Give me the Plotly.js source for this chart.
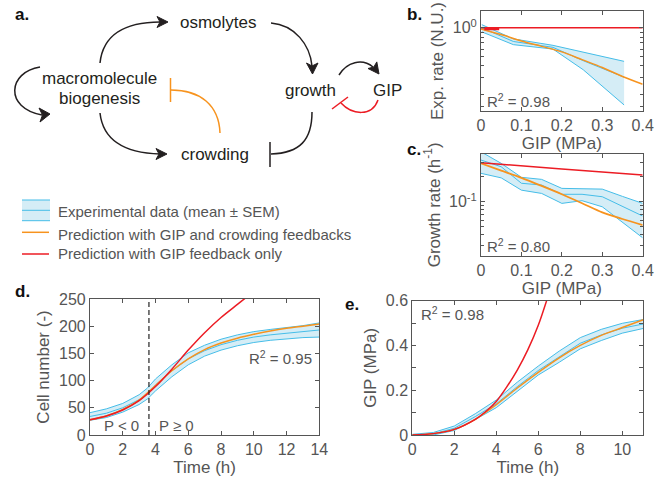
<!DOCTYPE html>
<html><head><meta charset="utf-8">
<script src="https://cdn.plot.ly/plotly-3.0.1.min.js"></script>
<style>html,body{margin:0;padding:0;background:#fff}#chart{width:664px;height:477px}</style>
</head><body><div id="chart"></div>
<script>
// ---------- Panel b: exponential rate vs GIP ----------
const bX      = [0.002, 0.08, 0.178, 0.253, 0.354];
const bMean   = [1.0, 0.72, 0.625, 0.453, 0.305];
const bUpper  = [1.08, 0.766, 0.656, 0.553, 0.446];
const bLower  = [0.908, 0.667, 0.60, 0.364, 0.156];
const bPredX  = [0, 0.05, 0.1, 0.15, 0.2, 0.25, 0.3, 0.35, 0.4];
const bOrange = [0.976, 0.85, 0.73, 0.64, 0.56, 0.465, 0.385, 0.31, 0.257];
const bRedX   = [0, 0.4];
const bRed    = [1, 1];
const bRedStubX = [0.008, 0.045];
const bRedStub  = [0.98, 0.98];

// ---------- Panel c: growth rate vs GIP ----------
const cX      = [0, 0.05, 0.1, 0.15, 0.2, 0.25, 0.3, 0.35, 0.4];
const cUpper  = [0.40, 0.29, 0.197, 0.186, 0.145, 0.145, 0.142, 0.116, 0.0956];
const cMean   = [0.318, 0.264, 0.167, 0.159, 0.123, 0.123, 0.115, 0.088, 0.0673];
const cLower  = [0.22, 0.194, 0.138, 0.126, 0.0956, 0.103, 0.087, 0.0565, 0.0368];
const cOrange = [0.29, 0.237, 0.194, 0.155, 0.123, 0.096, 0.0745, 0.062, 0.0524];
const cRedX   = [0, 0.2, 0.4];
const cRed    = [0.295, 0.248, 0.21];

// ---------- Panel d: cell number vs time ----------
const dT      = [0, 1, 2, 3, 3.5, 4, 5, 6, 7, 8, 9, 10, 11, 12, 13, 14];
const dMean   = [34, 40, 50, 65, 76, 92, 118, 140, 155, 166, 174, 180, 184, 187, 190, 193];
const dSem    = [7, 8, 8, 9, 10, 11, 11, 11, 10, 10, 10, 10, 10, 10, 11, 13];
const dPredT  = [0, 1, 2, 3, 4, 5, 6, 7, 8, 9, 10, 11, 12, 13, 14];
const dOrange = [28, 35, 47, 64, 91, 118, 140, 157, 169, 178, 185, 191, 196, 200, 204];
const dRedT   = [0, 1, 2, 3, 4, 5, 6, 7, 8, 9, 9.5, 10];
const dRed    = [28, 35, 46, 63, 89, 121, 156, 188, 216, 240, 252, 264];
const dDivide = 3.6;

// ---------- Panel e: GIP vs time ----------
const eT      = [0, 1, 2, 3, 4, 5, 6, 7, 8, 9, 10, 11];
const eMean   = [0, 0.005, 0.03, 0.082, 0.139, 0.216, 0.288, 0.35, 0.41, 0.447, 0.477, 0.496];
const eSem    = [0.003, 0.006, 0.01, 0.013, 0.017, 0.02, 0.02, 0.025, 0.025, 0.025, 0.022, 0.02];
const eOrange = [0, 0.006, 0.025, 0.07, 0.135, 0.21, 0.28, 0.345, 0.4, 0.445, 0.48, 0.515];
const eRedT   = [0, 1, 2, 3, 3.5, 4, 4.5, 5, 5.5, 6, 6.5];
const eRed    = [0, 0.006, 0.025, 0.07, 0.105, 0.15, 0.215, 0.29, 0.38, 0.49, 0.63];

// ---------- styles ----------
const FONT = 'Liberation Sans, Arial, sans-serif';
const TXT = '#555';
const BLUE = '#45bde8';
const FILL = 'rgba(195,230,242,0.7)';
const ORANGE = '#f7931e';
const RED = '#ec1c24';
const INK = '#231f20';

const traces = [];
function band(x, lo, hi, mid, xa, ya) {
  traces.push({type:'scatter', mode:'lines', x:x, y:lo, xaxis:xa, yaxis:ya, line:{color:BLUE, width:1}, hoverinfo:'skip'});
  traces.push({type:'scatter', mode:'lines', x:x, y:hi, xaxis:xa, yaxis:ya, fill:'tonexty', fillcolor:FILL, line:{color:BLUE, width:1}, hoverinfo:'skip'});
  traces.push({type:'scatter', mode:'lines', x:x, y:mid, xaxis:xa, yaxis:ya, line:{color:BLUE, width:1}, hoverinfo:'skip'});
}
function curve(x, y, color, w, xa, ya, smooth) {
  traces.push({type:'scatter', mode:'lines', x:x, y:y, xaxis:xa, yaxis:ya,
    line:{color:color, width:w, shape: smooth ? 'spline' : 'linear', smoothing:0.8}, hoverinfo:'skip'});
}
// b
band(bX, bLower, bUpper, bMean, 'x', 'y');
curve(bPredX, bOrange, ORANGE, 1.5, 'x', 'y', true);
curve(bRedX, bRed, RED, 1.5, 'x', 'y', false);
curve(bRedStubX, bRedStub, RED, 3, 'x', 'y', false);
// c
band(cX, cLower, cUpper, cMean, 'x2', 'y2');
curve(cX, cOrange, ORANGE, 1.8, 'x2', 'y2', true);
curve(cRedX, cRed, RED, 1.5, 'x2', 'y2', true);
// d
band(dT, dMean.map((v,i)=>v-dSem[i]), dMean.map((v,i)=>v+dSem[i]), dMean, 'x3', 'y3');
curve(dPredT, dOrange, ORANGE, 1.5, 'x3', 'y3', true);
curve(dRedT, dRed, RED, 1.5, 'x3', 'y3', true);
// e
band(eT, eMean.map((v,i)=>Math.max(0,v-eSem[i])), eMean.map((v,i)=>v+eSem[i]), eMean, 'x4', 'y4');
curve(eT, eOrange, ORANGE, 1.5, 'x4', 'y4', true);
curve(eRedT, eRed, RED, 1.5, 'x4', 'y4', true);
// overlay canvas axis (pixel coordinates) for the diagram and legend
traces.push({type:'scatter', mode:'lines', x:[], y:[], xaxis:'x6', yaxis:'y6', hoverinfo:'skip'});

function ax(extra) {
  return Object.assign({
    showline:true, linecolor:'#555', linewidth:1, mirror:'allticks',
    ticks:'inside', ticklen:4, tickcolor:'#555', tickwidth:1,
    showgrid:false, zeroline:false,
    tickfont:{family:FONT, size:16, color:TXT}
  }, extra);
}
function ttl(t, standoff) { return {text:t, font:{family:FONT, size:17, color:TXT}, standoff:standoff}; }

const layout = {
  width:664, height:477, margin:{l:0, r:0, t:0, b:0},
  paper_bgcolor:'#fff', plot_bgcolor:'rgba(0,0,0,0)', showlegend:false,
  font:{family:FONT, color:TXT},
  // b
  xaxis: ax({domain:[0.7244,0.9679], anchor:'y', range:[0,0.4], dtick:0.1, title:ttl('GIP (MPa)', 1)}),
  yaxis: ax({domain:[0.7673,0.9769], anchor:'x', type:'log', range:[-0.87,0.176],
             tickvals:[1], ticktext:['10<sup>0</sup>'],
             minor:{tickvals:[0.15,0.2,0.3,0.4,0.5,0.6,0.7,0.8,0.9], ticks:'inside', ticklen:3, tickcolor:'#555'},
             title:ttl('Exp. rate (N.U.)', 4)}),
  // c
  xaxis2: ax({domain:[0.7244,0.9679], anchor:'y2', range:[0,0.4], dtick:0.1, title:ttl('GIP (MPa)', 1)}),
  yaxis2: ax({domain:[0.4639,0.6771], anchor:'x2', type:'log', range:[-1.65,-0.425],
             tickvals:[0.1], ticktext:['10<sup>-1</sup>'],
             minor:{tickvals:[0.03,0.04,0.05,0.06,0.07,0.08,0.09,0.2,0.3], ticks:'inside', ticklen:3, tickcolor:'#555'},
             title:ttl('Growth rate (h<sup>-1</sup>)', 4)}),
  // d
  xaxis3: ax({domain:[0.1355,0.4809], anchor:'y3', range:[0,14], dtick:2, title:ttl('Time (h)', 1)}),
  yaxis3: ax({domain:[0.0881,0.3732], anchor:'x3', range:[0,250], dtick:50, title:ttl('Cell number (-)', 5)}),
  // e
  xaxis4: ax({domain:[0.6209,0.9688], anchor:'y4', range:[0,11], tickvals:[0,2,4,6,8,10], title:ttl('Time (h)', 1)}),
  yaxis4: ax({domain:[0.0881,0.3696], anchor:'x4', range:[0,0.6], tickvals:[0,0.2,0.4,0.6], ticktext:['0','0.2','0.4','0.6'],
             minor:{tickvals:[0.1,0.3,0.5], ticks:'inside', ticklen:4, tickcolor:'#555'},
             title:ttl('GIP (MPa)', 4)}),
  // overlay pixel canvas
  xaxis6: {domain:[0,1], range:[0,664], visible:false, fixedrange:true, anchor:'y6'},
  yaxis6: {domain:[0,1], range:[477,0], visible:false, fixedrange:true, anchor:'x6'},
  shapes: [],
  annotations: []
};

const S = layout.shapes, A = layout.annotations;
function path(d, color, w, fill) {
  S.push({type:'path', xref:'x6', yref:'y6', path:d, line:{color:color, width:w},
          fillcolor: fill ? color : 'rgba(0,0,0,0)', layer:'above'});
}
function text(t, x, y, opts) {
  A.push(Object.assign({xref:'x6', yref:'y6', x:x, y:y, text:t, showarrow:false,
    font:{family:FONT, size:17, color:INK}, xanchor:'center', yanchor:'middle'}, opts||{}));
}

// --- panel a diagram ---
text('osmolytes', 218, 22);
text('macromolecule', 99, 78);
text('biogenesis', 99, 98);
text('growth', 310, 90);
text('GIP', 387, 90);
text('crowding', 215, 154);
// macromolecule -> osmolytes
path('M 100 63 C 103 35 125 22 160 22', INK, 1.5);
path('M 168 22 L 157 16.5 L 160 22 L 157 27.5 Z', INK, 1, true);
// osmolytes -> growth
path('M 271 23 C 295 25 310 45 312 66', INK, 1.5);
path('M 312.5 74 L 306.5 63 L 312 66 L 318 63 Z', INK, 1, true);
// macromolecule -> crowding
path('M 100 113 C 103 140 125 153 160 154', INK, 1.5);
path('M 167 154 L 156 148.5 L 159 154 L 156 159.5 Z', INK, 1, true);
// growth -| crowding
path('M 312 112 C 312 140 300 153 271 154', INK, 1.5);
path('M 270 142 L 270 167', INK, 1.5);
// crowding -| macromolecule (orange)
path('M 220 133 C 219 105 200 90 171 90', ORANGE, 1.5);
path('M 170.5 78 L 170.5 102', ORANGE, 1.5);
// self-loop on macromolecule
path('M 40 67 C 8 72 4 108 42 115', INK, 1.5);
path('M 50 114 L 39 108 L 42.5 115 L 40 122 Z', INK, 1, true);
// growth -> GIP
path('M 339 75 C 347 62 362 58 373 67', INK, 1.5);
path('M 379 74 L 376.8 61.9 L 373.8 67 L 368 68.5 Z', INK, 1, true);
// GIP -| growth (red)
path('M 378 100 C 372 117 352 115 341 103', RED, 1.5);
path('M 332 109 L 348 97', RED, 1.5);

// --- legend ---
S.push({type:'rect', xref:'x6', yref:'y6', x0:22, x1:50, y0:200, y1:220.7, fillcolor:FILL, line:{width:0}, layer:'above'});
path('M 22 200 L 50 200', BLUE, 1);
path('M 22 210.3 L 50 210.3', BLUE, 1);
path('M 22 220.7 L 50 220.7', BLUE, 1);
path('M 22 232.3 L 49 232.3', ORANGE, 1.5);
path('M 22 254 L 49 254', RED, 1.5);
const lf = {font:{family:FONT, size:15, color:TXT}, xanchor:'left'};
text('Experimental data (mean ± SEM)', 56, 211.5, lf);
text('Prediction with GIP and crowding feedbacks', 56, 234, lf);
text('Prediction with GIP feedback only', 56, 253, lf);

// --- panel letters ---
const pl = {font:{family:FONT, size:17, color:'#111', weight:'bold'}};
text('<b>a.</b>', 22, 14, pl);
text('<b>b.</b>', 414, 14, pl);
text('<b>c.</b>', 414, 149, pl);
text('<b>d.</b>', 22, 291, pl);
text('<b>e.</b>', 352, 304, pl);

// --- in-plot annotations ---
const rf = {family:FONT, size:15, color:TXT};
A.push({xref:'x', yref:'y domain', x:0.01, y:0.1, text:'R<sup>2</sup> = 0.98', showarrow:false, xanchor:'left', yanchor:'middle', font:rf});
A.push({xref:'x2', yref:'y2 domain', x:0.01, y:0.1, text:'R<sup>2</sup> = 0.80', showarrow:false, xanchor:'left', yanchor:'middle', font:rf});
A.push({xref:'x3', yref:'y3', x:13.7, y:142, text:'R<sup>2</sup> = 0.95', showarrow:false, xanchor:'right', yanchor:'middle', font:rf});
A.push({xref:'x3', yref:'y3', x:1.95, y:18, text:'P < 0', showarrow:false, xanchor:'center', yanchor:'middle', font:rf});
A.push({xref:'x3', yref:'y3', x:5.3, y:18, text:'P ≥ 0', showarrow:false, xanchor:'center', yanchor:'middle', font:rf});
A.push({xref:'x4', yref:'y4', x:0.3, y:0.545, text:'R<sup>2</sup> = 0.98', showarrow:false, xanchor:'left', yanchor:'middle', font:rf});
S.push({type:'line', xref:'x3', yref:'y3 domain', x0:dDivide, x1:dDivide, y0:0, y1:1, line:{color:'#222', width:1.2, dash:'5px,3px'}});

Plotly.newPlot('chart', traces, layout, {staticPlot:true, displayModeBar:false});
</script>
</body></html>
